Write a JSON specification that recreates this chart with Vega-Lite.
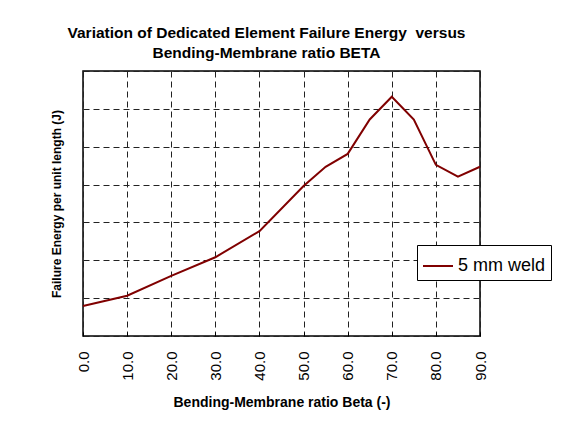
{
  "$schema": "https://vega.github.io/schema/vega-lite/v6.json",
  "width": 397,
  "height": 265,
  "autosize": {"type": "none"},
  "padding": {"left": 83, "top": 71, "right": 96, "bottom": 91},
  "background": "white",
  "title": {
    "text": ["Variation of Dedicated Element Failure Energy \u00a0versus", "Bending-Membrane ratio BETA"],
    "font": "Liberation Sans",
    "fontSize": 15.5,
    "fontWeight": "bold",
    "color": "black",
    "anchor": "middle",
    "dx": -15,
    "offset": 10,
    "lineHeight": 20
  },
  "data": {
    "values": [
      {"beta": 0, "energy": 0.79, "series": "5 mm weld"},
      {"beta": 10, "energy": 1.065, "series": "5 mm weld"},
      {"beta": 20, "energy": 1.59, "series": "5 mm weld"},
      {"beta": 30, "energy": 2.08, "series": "5 mm weld"},
      {"beta": 40, "energy": 2.77, "series": "5 mm weld"},
      {"beta": 50, "energy": 3.96, "series": "5 mm weld"},
      {"beta": 55, "energy": 4.47, "series": "5 mm weld"},
      {"beta": 60, "energy": 4.81, "series": "5 mm weld"},
      {"beta": 65, "energy": 5.72, "series": "5 mm weld"},
      {"beta": 70, "energy": 6.32, "series": "5 mm weld"},
      {"beta": 75, "energy": 5.72, "series": "5 mm weld"},
      {"beta": 80, "energy": 4.52, "series": "5 mm weld"},
      {"beta": 85, "energy": 4.21, "series": "5 mm weld"},
      {"beta": 90, "energy": 4.47, "series": "5 mm weld"}
    ]
  },
  "mark": {"type": "line", "strokeWidth": 2},
  "encoding": {
    "x": {
      "field": "beta",
      "type": "quantitative",
      "scale": {"domain": [0, 90], "nice": false, "zero": false},
      "title": "Bending-Membrane ratio Beta (-)",
      "axis": {
        "values": [0, 10, 20, 30, 40, 50, 60, 70, 80, 90],
        "format": ".1f",
        "labelAngle": 270,
        "labelFont": "Liberation Sans",
        "labelFontSize": 15,
        "labelColor": "black",
        "labelPadding": 19,
        "domain": false,
        "ticks": true,
        "tickSize": -4,
        "tickColor": "black",
        "grid": true,
        "gridColor": "#222",
        "gridDash": [6, 4],
        "gridWidth": 1,
        "titleFont": "Liberation Sans",
        "titleFontSize": 14,
        "titleFontWeight": "bold",
        "titleColor": "black",
        "titlePadding": 15
      }
    },
    "y": {
      "field": "energy",
      "type": "quantitative",
      "scale": {"domain": [0, 7], "nice": false},
      "title": "Failure Energy per unit length (J)",
      "axis": {
        "values": [0, 1, 2, 3, 4, 5, 6, 7],
        "labels": false,
        "ticks": false,
        "domain": false,
        "grid": true,
        "gridColor": "#222",
        "gridDash": [6, 4],
        "gridWidth": 1,
        "titleFont": "Liberation Sans",
        "titleFontSize": 12,
        "titleFontWeight": "bold",
        "titleColor": "black",
        "titlePadding": 20
      }
    },
    "color": {
      "field": "series",
      "type": "nominal",
      "scale": {"range": ["#800000"]},
      "legend": {
        "orient": "none",
        "legendX": 334,
        "legendY": 174,
        "title": null,
        "strokeColor": "black",
        "fillColor": "white",
        "padding": 5,
        "cornerRadius": 0,
        "labelFont": "Liberation Sans",
        "labelFontSize": 18,
        "labelColor": "black",
        "labelOffset": 4,
        "symbolType": "stroke",
        "symbolSize": 900,
        "symbolStrokeWidth": 2
      }
    }
  },
  "config": {
    "view": {"stroke": "black", "strokeWidth": 1.5},
    "font": "Liberation Sans"
  }
}
